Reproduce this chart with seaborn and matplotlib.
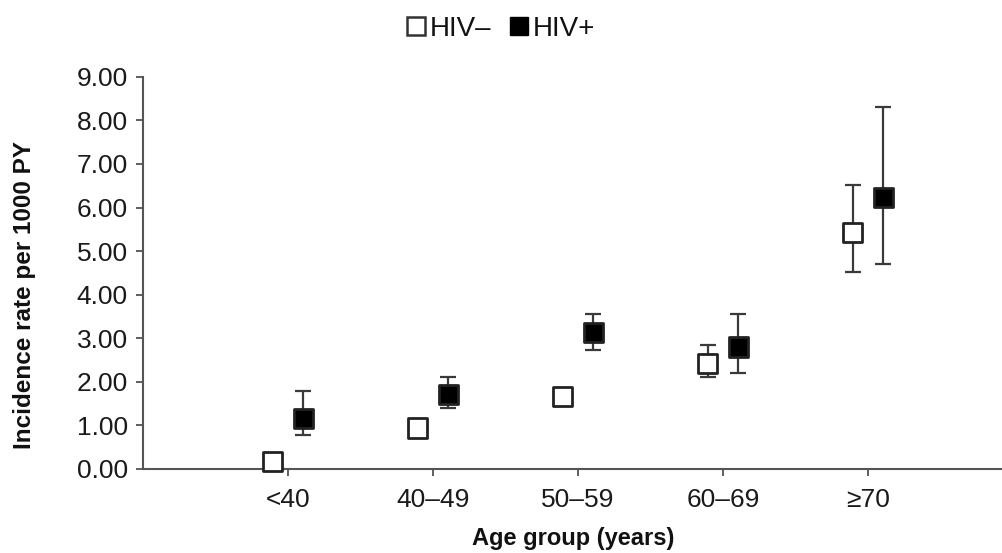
import numpy as np
import pandas as pd
import matplotlib
matplotlib.use("Agg")
import matplotlib.pyplot as plt
from matplotlib.lines import Line2D
import seaborn as sns

categories = ["<40", "40–49", "50–59", "60–69", "≥70"]
hiv_neg = [0.18, 0.94, 1.67, 2.43, 5.43]
hiv_neg_lo = [0.10, 0.85, 1.58, 2.11, 4.52]
hiv_neg_hi = [0.28, 1.03, 1.77, 2.84, 6.51]
hiv_pos = [1.15, 1.70, 3.14, 2.80, 6.24]
hiv_pos_lo = [0.78, 1.40, 2.73, 2.20, 4.70]
hiv_pos_hi = [1.79, 2.11, 3.56, 3.56, 8.30]
yticks = [0, 1, 2, 3, 4, 5, 6, 7, 8, 9]

sns.set_theme(style="ticks")
plt.rcParams['font.family'] = ['Liberation Sans', 'DejaVu Sans']

fig = plt.figure(figsize=(10.03, 5.53), dpi=100)
ax = fig.add_axes([0.1426, 0.152, 0.8574, 0.709])

pos = np.arange(1, len(categories) + 1)
off = 0.105
df = pd.DataFrame({
    "x": np.concatenate([pos - off, pos + off]),
    "y": hiv_neg + hiv_pos,
    "lo": hiv_neg_lo + hiv_pos_lo,
    "hi": hiv_neg_hi + hiv_pos_hi,
    "group": ["HIV–"] * len(categories) + ["HIV+"] * len(categories),
})

ecol = "#3a3a3a"
for g in ["HIV–", "HIV+"]:
    d = df[df.group == g]
    ax.errorbar(d.x, d.y, yerr=[d.y - d.lo, d.hi - d.y], fmt="none",
                ecolor=ecol, elinewidth=1.6, capsize=5.5, capthick=1.6, zorder=2)

sns.scatterplot(data=df, x="x", y="y", hue="group", style="group",
                markers={"HIV–": "s", "HIV+": "s"},
                palette={"HIV–": "white", "HIV+": "black"},
                edgecolor="#222222", linewidth=2.0, s=190, legend=False,
                ax=ax, zorder=3, clip_on=False)

ax.set_xlim(0, 5.93)
ax.set_ylim(0, 9)
ax.set_xticks(pos)
ax.set_xticklabels(categories)
ax.set_yticks(yticks)
ax.set_yticklabels([f"{v:.2f}" for v in yticks])
ax.tick_params(axis="both", labelsize=19, colors="#444444", labelcolor="#1a1a1a",
               length=5, width=1.2, direction="out")
ax.tick_params(axis="x", pad=9)
ax.tick_params(axis="y", pad=6)
for s in ["top", "right"]:
    ax.spines[s].set_visible(False)
for s in ["left", "bottom"]:
    ax.spines[s].set_color("#555555")
    ax.spines[s].set_linewidth(1.5)

ax.set_xlabel("Age group (years)", fontsize=17, fontweight="bold", color="#111111")
ax.xaxis.set_label_coords(0.5, -0.148)
ax.set_ylabel("Incidence rate per 1000 PY", fontsize=17.5, fontweight="bold", color="#111111")
ax.yaxis.set_label_coords(-0.125, 0.444)

handles = [
    Line2D([], [], marker="s", linestyle="none", markerfacecolor="white",
           markeredgecolor="#333333", markeredgewidth=1.8, markersize=13),
    Line2D([], [], marker="s", linestyle="none", markerfacecolor="black",
           markeredgecolor="black", markersize=13),
]
fig.legend(handles, ["HIV–", "HIV+"], loc="upper center", bbox_to_anchor=(0.497, 1.017),
           ncol=2, frameon=False, fontsize=20, handletextpad=0.0,
           columnspacing=0.5, handlelength=1.0, labelcolor="#111111")

fig.savefig("out.png", dpi=100)
